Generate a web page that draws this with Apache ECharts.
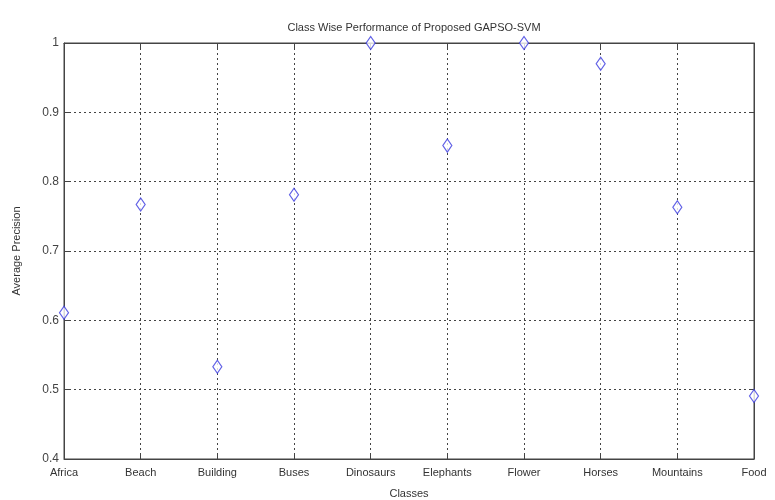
<!DOCTYPE html>
<html>
<head>
<meta charset="utf-8">
<script src="https://cdn.jsdelivr.net/npm/echarts@6/dist/echarts.min.js"></script>
<style>
  html, body { margin: 0; padding: 0; background: #fff; }
  #chart { width: 775px; height: 500px; }
</style>
</head>
<body>
<div id="chart"></div>
<script>
// 类别与平均精度
const classes = ['Africa', 'Beach', 'Building', 'Buses', 'Dinosaurs', 'Elephants', 'Flower', 'Horses', 'Mountains', 'Food'];
const precision = [0.611, 0.767, 0.533, 0.781, 1.0, 0.852, 1.0, 0.970, 0.763, 0.491];
const yTicks = [0.4, 0.5, 0.6, 0.7, 0.8, 0.9, 1];

const font = 'Liberation Sans, Arial, sans-serif';
const gridLine = { show: true, lineStyle: { color: '#444', type: [2, 3], width: 1 } };

const myChart = echarts.init(document.getElementById('chart'));
myChart.setOption({
  animation: false,
  backgroundColor: '#fff',
  title: {
    text: 'Class Wise Performance of Proposed GAPSO-SVM',
    left: 409,
    textAlign: 'center',
    top: 17,
    textStyle: { fontFamily: font, fontSize: 11, fontWeight: 'normal', color: '#333' }
  },
  grid: {
    left: 64, right: 21, top: 43, bottom: 41,
    containLabel: false,
    outerBoundsMode: 'none',
    show: true, borderColor: '#444', borderWidth: 1, backgroundColor: '#fff'
  },
  xAxis: [
    {
      type: 'category',
      data: classes,
      boundaryGap: false,
      name: 'Classes',
      nameLocation: 'middle',
      nameGap: 29,
      nameTextStyle: { fontFamily: font, fontSize: 11, color: '#333' },
      axisLine: { lineStyle: { color: '#444' } },
      axisTick: { inside: true, length: 5, lineStyle: { color: '#444' } },
      axisLabel: { fontFamily: font, fontSize: 11, color: '#333', margin: 8, interval: 0 },
      splitLine: gridLine
    },
    {
      type: 'category',
      data: classes,
      boundaryGap: false,
      position: 'top',
      axisLine: { lineStyle: { color: '#444' } },
      axisTick: { inside: true, length: 5, lineStyle: { color: '#444' } },
      axisLabel: { show: false },
      splitLine: { show: false }
    }
  ],
  yAxis: [
    {
      type: 'value',
      min: 0.4,
      max: 1,
      interval: 0.1,
      name: 'Average Precision',
      nameLocation: 'middle',
      nameGap: 42,
      nameTextStyle: { fontFamily: font, fontSize: 11, color: '#333' },
      axisLine: { show: true, lineStyle: { color: '#444' } },
      axisTick: { show: true, inside: true, length: 5, lineStyle: { color: '#444' } },
      axisLabel: {
        fontFamily: font, fontSize: 12, color: '#444', margin: 5,
        formatter: v => {
          const t = yTicks.find(k => Math.abs(k - v) < 1e-6);
          return t === undefined ? '' : String(t);
        }
      },
      splitLine: gridLine
    },
    {
      type: 'value',
      min: 0.4,
      max: 1,
      interval: 0.1,
      position: 'right',
      axisLine: { show: true, lineStyle: { color: '#444' } },
      axisTick: { show: true, inside: true, length: 5, lineStyle: { color: '#444' } },
      axisLabel: { show: false },
      splitLine: { show: false }
    }
  ],
  series: [
    {
      type: 'scatter',
      data: precision,
      symbol: 'diamond',
      symbolSize: [9, 13],
      clip: false,
      itemStyle: { color: '#fff', borderColor: '#3a3ae0', borderWidth: 1.2 },
      z: 5
    }
  ]
});

window.addEventListener('resize', () => { myChart.resize() });
</script>
</body>
</html>
